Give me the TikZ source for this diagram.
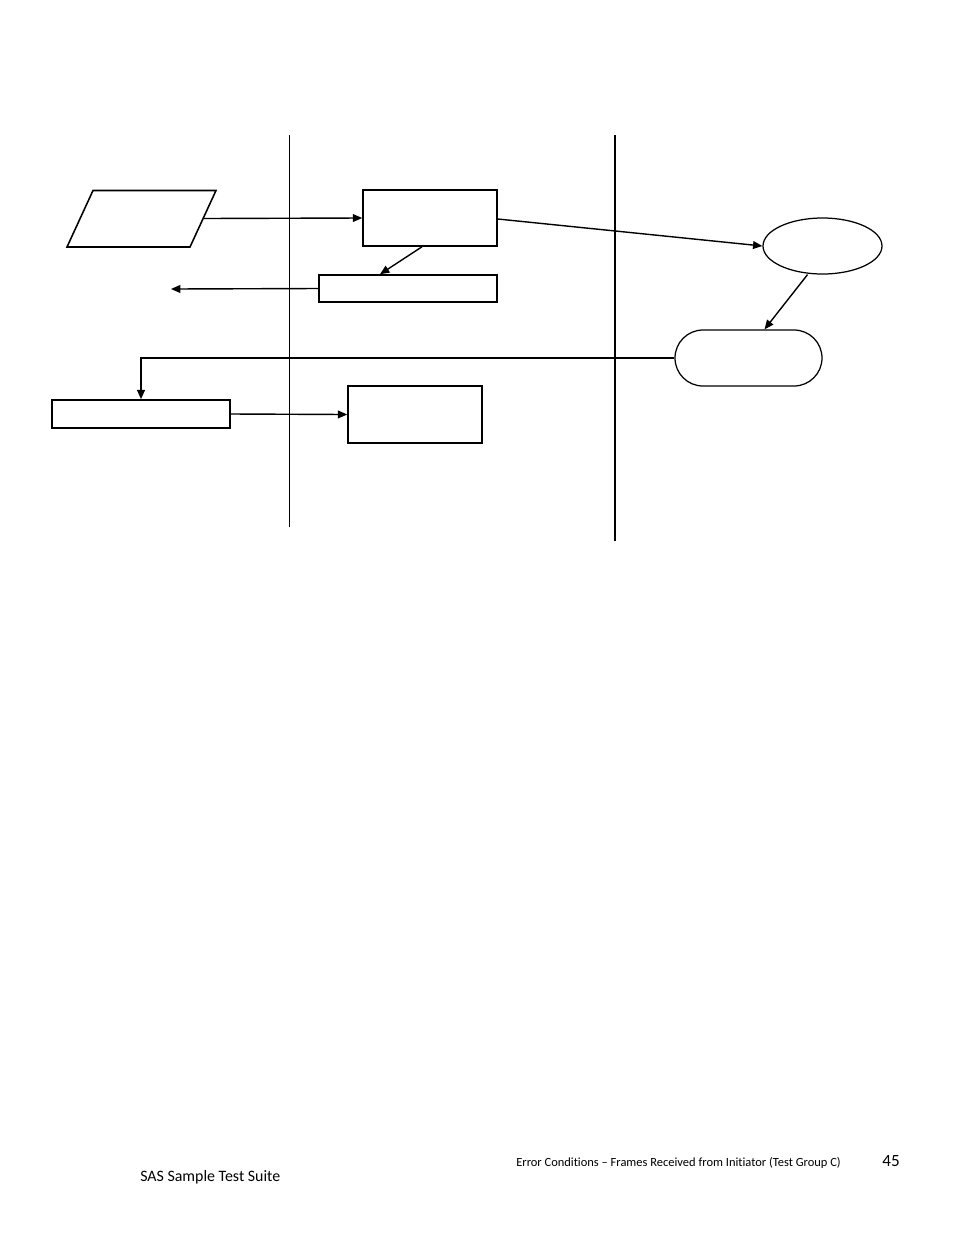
\documentclass[tikz,border=0pt]{standalone}
\usepackage{fontspec}
\setmainfont{Carlito}[Ligatures=NoCommon]
\usepackage{tikz}
\usetikzlibrary{positioning, arrows.meta, calc, shapes.geometric, shapes.misc}

\newcommand{\pxl}[1]{#1*0.6415pt}

\begin{document}
\begin{tikzpicture}[x=0.6415pt, y=-0.6415pt,
    flowbox/.style={draw, line width=1pt, inner sep=0pt},
    flowarrow/.style={-{Triangle[length=6pt,width=5pt]}, line width=0.9pt},
    lane/.style={line width=0.6pt}]
\useasboundingbox (0,0) rectangle (954,1235);

% lanes
\draw[lane] (289,135) -- (289,527);
\draw[lane, line width=1.2pt] (615,135) -- (615,541);

% shapes
\draw[line width=1pt] (67,247) -- (93,190.5) -- (216,190.5) -- (190,247) -- cycle;
\coordinate (input) at (203,218.5);
\node[flowbox, minimum width={\pxl{134}}, minimum height={\pxl{56}}] (check) at (430,218) {};
\node[flowbox, minimum width={\pxl{178}}, minimum height={\pxl{27}}] (report) at (408,288.5) {};
\node[flowbox, ellipse, line width=0.8pt, minimum width={\pxl{119}}, minimum height={\pxl{56}}] (target) at (822.5,246) {};
\node[flowbox, rounded rectangle, line width=0.8pt, minimum width={\pxl{147}}, minimum height={\pxl{56}}] (reply) at (748.5,358) {};
\node[flowbox, minimum width={\pxl{178}}, minimum height={\pxl{28}}] (result) at (141,414) {};
\node[flowbox, minimum width={\pxl{134}}, minimum height={\pxl{57}}] (done) at (415,414.5) {};
\coordinate (out) at (171,289);

% connectors
\draw[flowarrow] (input) -- (check.west);
\draw[flowarrow] ($(check.south)+(-8,0)$) -- ($(report.north)+(-28,0)$);
\draw[flowarrow] (report.west) -- (out);
\draw[flowarrow] ($(check.east)+(0,1)$) -- (target.west);
\draw[flowarrow] ($(target.south)+(-15,0)$) -- ($(reply.north)+(16,0)$);
\draw[flowarrow, line width=1.1pt] (reply.west) -| (result.north);
\draw[flowarrow] (result.east) -- (done.west);

% footer
\node[anchor=base west, font=\fontsize{8}{9}\selectfont, inner sep=0pt] (chapter) at (516,1166) {Error Conditions -- Frames Received from Initiator (Test Group C)};
\node[anchor=base west, font=\fontsize{11}{13}\selectfont, inner sep=0pt] (page) at (882,1166) {45};
\node[anchor=base west, font=\fontsize{10.2}{12}\selectfont, inner sep=0pt] (suite) at (140,1181) {SAS Sample Test Suite};
\end{tikzpicture}
\end{document}
